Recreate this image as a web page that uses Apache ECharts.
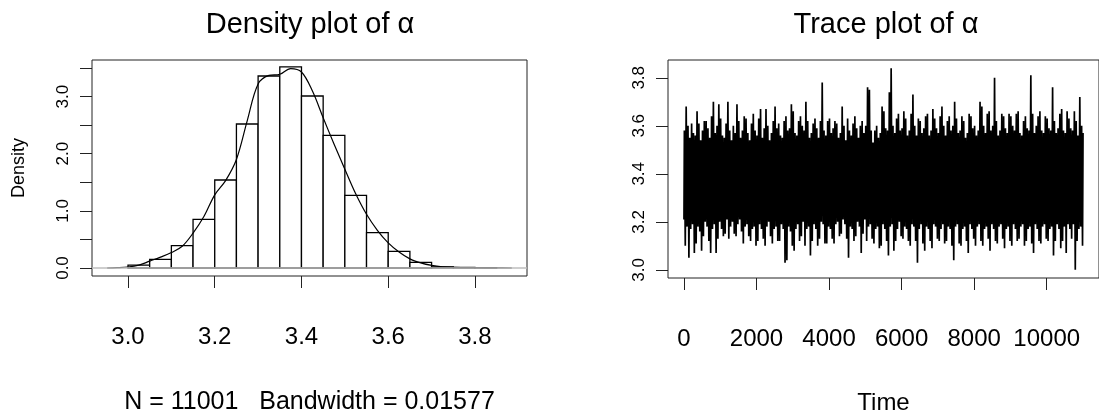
<!DOCTYPE html>
<html>
<head>
<meta charset="utf-8">
<script src="https://cdn.jsdelivr.net/npm/echarts@6/dist/echarts.min.js"></script>
<style>
html,body{margin:0;padding:0;background:#fff;}
#c{width:1099px;height:420px;}
</style>
</head>
<body>
<div id="c"></div>
<script>
// ---------- Data: density panel ----------
const histBreaks = [3.00,3.05,3.10,3.15,3.20,3.25,3.30,3.35,3.40,3.45,3.50,3.55,3.60,3.65,3.70,3.75,3.80,3.85];
const histDensity = [0.05,0.15,0.39,0.85,1.54,2.52,3.36,3.52,3.01,2.32,1.27,0.62,0.29,0.10,0.02,0.01,0.005];
const densityX = [2.952,2.975,3.000,3.025,3.050,3.075,3.100,3.125,3.150,3.175,3.200,3.225,3.250,3.275,3.300,3.325,3.350,3.375,3.400,3.425,3.450,3.475,3.500,3.525,3.550,3.575,3.600,3.625,3.650,3.675,3.700,3.725,3.750,3.800,3.850,3.885];
const densityY = [0,0.005,0.017,0.05,0.12,0.19,0.27,0.38,0.61,0.90,1.28,1.53,1.90,2.58,3.22,3.37,3.39,3.49,3.43,3.10,2.63,2.17,1.73,1.30,0.94,0.66,0.44,0.28,0.16,0.09,0.045,0.02,0.01,0.004,0.001,0];
const densXTicks = [3.0,3.2,3.4,3.6,3.8];
const densYTicks = [0,0.5,1,1.5,2,2.5,3,3.5];
const densYLabels = [0,1,2,3];

// ---------- Data: trace panel (per block of 50 iterations: max and min) ----------
const traceBlockSize = 50;
const traceStart = 3.21;
const traceEnd = 3.57;
const traceBlockMax = [
  3.58,3.68,3.60,3.55,3.61,3.57,3.56,3.66,3.61,3.54,3.58,3.62,3.62,3.59,3.55,3.64,3.70,3.57,3.60,3.69,
  3.63,3.56,3.55,3.61,3.70,3.58,3.54,3.60,3.57,3.69,3.62,3.55,3.58,3.64,3.63,3.57,3.54,3.61,3.65,3.58,
  3.56,3.63,3.67,3.55,3.59,3.67,3.60,3.54,3.57,3.62,3.68,3.59,3.61,3.56,3.55,3.62,3.64,3.58,3.59,3.69,
  3.66,3.57,3.56,3.62,3.64,3.60,3.58,3.70,3.62,3.55,3.57,3.61,3.63,3.59,3.55,3.62,3.78,3.58,3.56,3.62,
  3.63,3.57,3.59,3.62,3.61,3.55,3.57,3.68,3.60,3.54,3.63,3.58,3.56,3.61,3.64,3.59,3.55,3.60,3.62,3.57,
  3.60,3.76,3.75,3.58,3.53,3.58,3.60,3.55,3.57,3.68,3.66,3.59,3.58,3.74,3.84,3.60,3.57,3.63,3.65,3.58,
  3.59,3.66,3.63,3.56,3.58,3.65,3.73,3.60,3.56,3.63,3.62,3.57,3.59,3.64,3.65,3.56,3.58,3.67,3.63,3.59,
  3.57,3.64,3.68,3.60,3.56,3.62,3.64,3.58,3.60,3.70,3.63,3.57,3.58,3.64,3.62,3.55,3.57,3.65,3.64,3.59,
  3.60,3.56,3.58,3.70,3.68,3.60,3.57,3.65,3.66,3.58,3.60,3.80,3.62,3.56,3.58,3.65,3.64,3.59,3.57,3.65,
  3.64,3.60,3.58,3.65,3.66,3.57,3.56,3.62,3.64,3.59,3.58,3.81,3.65,3.57,3.60,3.64,3.66,3.58,3.57,3.64,
  3.63,3.59,3.58,3.76,3.62,3.57,3.59,3.65,3.67,3.58,3.57,3.66,3.63,3.59,3.58,3.66,3.62,3.56,3.72,3.60];
const traceBlockMin = [
  3.10,3.18,3.05,3.17,3.19,3.07,3.11,3.18,3.16,3.08,3.14,3.20,3.18,3.12,3.07,3.17,3.19,3.07,3.13,3.20,
  3.17,3.14,3.15,3.21,3.13,3.18,3.20,3.15,3.14,3.19,3.21,3.16,3.11,3.18,3.19,3.14,3.12,3.17,3.18,3.10,
  3.12,3.19,3.17,3.13,3.10,3.18,3.20,3.14,3.11,3.17,3.18,3.12,3.12,3.19,3.17,3.03,3.04,3.18,3.16,3.10,
  3.08,3.17,3.19,3.12,3.14,3.20,3.10,3.17,3.18,3.06,3.12,3.19,3.17,3.10,3.13,3.20,3.19,3.11,3.11,3.18,
  3.17,3.13,3.11,3.19,3.20,3.14,3.15,3.21,3.19,3.13,3.05,3.18,3.17,3.12,3.14,3.20,3.18,3.07,3.15,3.21,
  3.12,3.18,3.19,3.13,3.11,3.17,3.18,3.09,3.10,3.19,3.17,3.12,3.06,3.18,3.19,3.08,3.12,3.17,3.20,3.14,
  3.13,3.18,3.17,3.12,3.10,3.19,3.18,3.12,3.03,3.17,3.19,3.11,3.08,3.18,3.17,3.12,3.09,3.19,3.18,3.13,
  3.12,3.17,3.19,3.11,3.12,3.18,3.17,3.10,3.04,3.18,3.19,3.11,3.10,3.17,3.18,3.12,3.07,3.19,3.17,3.13,
  3.10,3.18,3.19,3.12,3.10,3.17,3.18,3.13,3.08,3.19,3.17,3.12,3.11,3.18,3.19,3.13,3.09,3.17,3.18,3.12,
  3.10,3.19,3.17,3.12,3.13,3.18,3.19,3.10,3.12,3.17,3.18,3.11,3.07,3.19,3.17,3.12,3.11,3.18,3.19,3.13,
  3.12,3.17,3.18,3.06,3.12,3.19,3.17,3.09,3.12,3.18,3.07,3.19,3.17,3.13,3.19,3.00,3.12,3.17,3.18,3.10];
const traceLastTime = 11001;
const traceXTicks = [0,2000,4000,6000,8000,10000];
const traceYTicks = [3.0,3.2,3.4,3.6,3.8];

// ---------- Build series data ----------
const histData = histDensity.map((d, i) => [histBreaks[i], histBreaks[i + 1], d]);
const densityData = densityX.map((x, i) => [x, densityY[i]]);
const traceData = [[1, traceStart]];
traceBlockMax.forEach((hi, k) => {
  traceData.push([k * traceBlockSize + 12, hi]);
  traceData.push([k * traceBlockSize + 37, traceBlockMin[k]]);
});
traceData.push([traceLastTime, traceEnd]);

const FONT = 'Liberation Sans';
const TICK = { show: true, length: 12, lineStyle: { color: '#222', width: 1 } };
const NOLINE = { show: false, onZero: false };

const chart = echarts.init(document.getElementById('c'), null, { renderer: 'canvas' });
chart.setOption({
  animation: false,
  backgroundColor: '#fff',
  graphic: [
    { type: 'text', x: 310, y: 25, style: { text: 'Density plot of α', font: '29px "' + FONT + '"', fill: '#000', textAlign: 'center', textVerticalAlign: 'middle' } },
    { type: 'text', x: 886, y: 25, style: { text: 'Trace plot of α', font: '29px "' + FONT + '"', fill: '#000', textAlign: 'center', textVerticalAlign: 'middle' } }
  ],
  grid: [
    { left: 92, right: 572, top: 60, bottom: 136, show: true, borderColor: '#222', borderWidth: 1, backgroundColor: 'transparent', containLabel: false },
    { left: 668, right: -4.5, top: 60, bottom: 136.5, show: true, borderColor: '#222', borderWidth: 1, backgroundColor: 'transparent', containLabel: false }
  ],
  xAxis: [
    {
      type: 'value', gridIndex: 0, min: 2.917, max: 3.92,
      axisLine: NOLINE, splitLine: { show: false },
      axisTick: Object.assign({ customValues: densXTicks }, TICK),
      axisLabel: { customValues: densXTicks, fontFamily: FONT, fontSize: 24, color: '#000', margin: 49, formatter: v => v.toFixed(1) },
      name: 'N = 11001   Bandwidth = 0.01577', nameLocation: 'middle', nameGap: 114,
      nameTextStyle: { fontFamily: FONT, fontSize: 25, color: '#000' }
    },
    {
      type: 'value', gridIndex: 1, min: -439, max: 11441,
      axisLine: NOLINE, splitLine: { show: false },
      axisTick: Object.assign({ customValues: traceXTicks }, TICK),
      axisLabel: { customValues: traceXTicks, fontFamily: FONT, fontSize: 24, color: '#000', margin: 49, formatter: v => String(v) },
      name: 'Time', nameLocation: 'middle', nameGap: 113,
      nameTextStyle: { fontFamily: FONT, fontSize: 24, color: '#000' }
    }
  ],
  yAxis: [
    {
      type: 'value', gridIndex: 0, min: -0.14, max: 3.64,
      axisLine: NOLINE, splitLine: { show: false },
      axisTick: Object.assign({ customValues: densYTicks }, TICK),
      axisLabel: { customValues: densYLabels, rotate: 90, fontFamily: FONT, fontSize: 17, color: '#000', margin: 20, formatter: v => v.toFixed(1) },
      name: 'Density', nameLocation: 'middle', nameGap: 64, nameRotate: 90,
      nameTextStyle: { fontFamily: FONT, fontSize: 18, color: '#000' }
    },
    {
      type: 'value', gridIndex: 1, min: 2.966, max: 3.874,
      axisLine: NOLINE, splitLine: { show: false },
      axisTick: Object.assign({ customValues: traceYTicks }, TICK),
      axisLabel: { customValues: traceYTicks, rotate: 90, fontFamily: FONT, fontSize: 17, color: '#000', margin: 20, formatter: v => v.toFixed(1) }
    }
  ],
  series: [
    {
      type: 'line', xAxisIndex: 0, yAxisIndex: 0, data: [], z: 1, silent: true,
      markLine: { silent: true, symbol: 'none', label: { show: false }, lineStyle: { color: '#bebebe', type: 'solid', width: 1.5 }, data: [{ yAxis: 0 }] }
    },
    {
      type: 'custom', xAxisIndex: 0, yAxisIndex: 0, z: 2, silent: true,
      data: histData,
      encode: { x: [0, 1], y: 2 },
      renderItem: function (params, api) {
        const p0 = api.coord([api.value(0), api.value(2)]);
        const p1 = api.coord([api.value(1), 0]);
        return {
          type: 'rect',
          shape: { x: p0[0], y: p0[1], width: p1[0] - p0[0], height: p1[1] - p0[1] },
          style: { fill: '#fff', stroke: '#000', lineWidth: 1.3 }
        };
      }
    },
    {
      type: 'line', xAxisIndex: 0, yAxisIndex: 0, z: 3, silent: true,
      data: densityData, showSymbol: false, smooth: 0.35,
      lineStyle: { color: '#000', width: 1.2 }
    },
    {
      type: 'line', xAxisIndex: 1, yAxisIndex: 1, z: 3, silent: true,
      data: traceData, showSymbol: false, smooth: false,
      lineStyle: { color: '#000', width: 1.7, join: 'miter' }
    }
  ]
});
</script>
</body>
</html>
